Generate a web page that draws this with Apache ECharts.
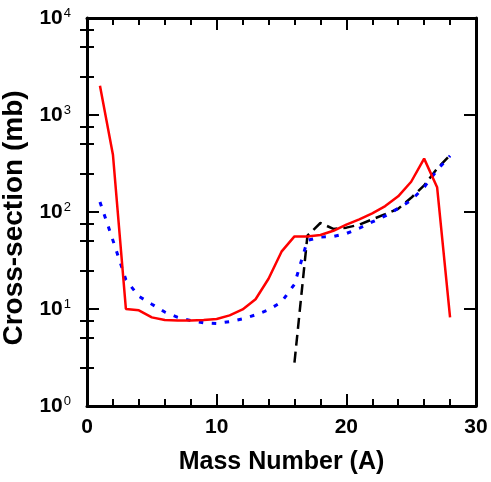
<!DOCTYPE html>
<html>
<head>
<meta charset="utf-8">
<script src="https://cdn.jsdelivr.net/npm/echarts@6/dist/echarts.min.js"></script>
<style>
  html, body { margin: 0; padding: 0; background: #fff; }
  #chart { width: 491px; height: 482px; }
</style>
</head>
<body>
<div id="chart"></div>
<script>
// mass numbers A = 1..28
const massNumbers = [1, 2, 3, 4, 5, 6, 7, 8, 9, 10, 11, 12, 13, 14, 15, 16, 17, 18, 19, 20, 21, 22, 23, 24, 25, 26, 27, 28]
// red solid curve
const redValues = [2000, 390, 10, 9.7, 8.2, 7.7, 7.6, 7.6, 7.7, 7.9, 8.6, 9.9, 12.6, 20.5, 39, 56, 56, 58, 64, 74, 84, 97, 115, 145, 205, 355, 180, 8.2]
// blue dotted curve
const blueValues = [127, 51, 20, 13.5, 11.2, 9.3, 8.2, 7.6, 7.2, 7.1, 7.4, 7.9, 8.7, 9.8, 11.8, 18, 51, 55, 56, 60, 68, 79, 91, 109, 132, 180, 270, 380]
// black dashed curve (A = 16..28)
const blackMass = [16, 17, 18, 19, 20, 21, 22, 23, 24, 25, 26, 27, 28]
const blackValues = [2.8, 57, 77, 67, 69, 74, 84, 95, 108, 140, 188, 280, 385]
// minor ticks on log axis (2.5, 5, 7.5 per decade)
const minorFactors = [2.5, 5, 7.5]
const decades = [0, 1, 2, 3]

const font = "'Liberation Sans', Arial, Helvetica, sans-serif"
const minorLogTicks = []
decades.forEach(d => {
  minorFactors.forEach(f => minorLogTicks.push(d + Math.log10(f)))
})

const chart = echarts.init(document.getElementById('chart'))

const pair = (xs, ys) => xs.map((x, i) => [x, ys[i]])

const xBase = {
  type: 'value',
  min: 0,
  max: 30,
  interval: 10,
  axisLine: { show: true, onZero: false, lineStyle: { color: '#000', width: 3 } },
  axisTick: { show: true, inside: true, length: 12, lineStyle: { color: '#000', width: 2 } },
  minorTick: { show: true, splitNumber: 5, length: 7, lineStyle: { color: '#000', width: 2 } },
  splitLine: { show: false },
  minorSplitLine: { show: false }
}

const logBase = {
  type: 'log',
  logBase: 10,
  min: 1,
  max: 10000,
  axisLine: { show: true, onZero: false, lineStyle: { color: '#000', width: 3 } },
  axisTick: { show: true, inside: true, length: 12, lineStyle: { color: '#000', width: 2 } },
  splitLine: { show: false }
}

// overlay axis only for the uneven minor ticks
const minorBase = {
  type: 'value',
  min: 0,
  max: 4,
  axisLine: { show: false },
  axisLabel: { show: false },
  axisTick: { show: true, inside: true, length: 7, customValues: minorLogTicks, lineStyle: { color: '#000', width: 2 } },
  splitLine: { show: false }
}

const options = {
  animation: false,
  textStyle: { fontFamily: font },
  grid: { left: 87, right: 15, top: 18, bottom: 76, containLabel: false, outerBoundsMode: 'none' },
  xAxis: [
    {
      ...xBase,
      position: 'bottom',
      name: 'Mass Number (A)',
      nameLocation: 'middle',
      nameGap: 44,
      nameTextStyle: { fontFamily: font, fontSize: 25, fontWeight: 'bold', color: '#000' },
      axisLabel: { show: true, margin: 11, fontFamily: font, fontSize: 21, fontWeight: 'bold', color: '#000' }
    },
    {
      ...xBase,
      position: 'top',
      axisLabel: { show: false }
    }
  ],
  yAxis: [
    {
      ...logBase,
      position: 'left',
      name: 'Cross-section (mb)',
      nameLocation: 'middle',
      nameRotate: 90,
      nameGap: 58,
      nameTextStyle: { fontFamily: font, fontSize: 28, fontWeight: 'bold', color: '#000', padding: [0, 12, 0, 0] },
      axisLabel: {
        show: true,
        margin: 16,
        fontFamily: font,
        fontSize: 21,
        fontWeight: 'bold',
        color: '#000',
        formatter: function (v) {
          const e = Math.round(Math.log10(v))
          return '{b|10}{s|' + e + '}'
        },
        rich: {
          b: { fontFamily: font, fontSize: 21, fontWeight: 'bold', color: '#000', lineHeight: 22 },
          s: { fontFamily: font, fontSize: 13, fontWeight: 'normal', color: '#000', verticalAlign: 'top', lineHeight: 13, padding: [0, 0, 0, 1] }
        }
      }
    },
    {
      ...logBase,
      position: 'right',
      axisLabel: { show: false }
    },
    { ...minorBase, position: 'left' },
    { ...minorBase, position: 'right' }
  ],
  series: [
    {
      name: 'black',
      type: 'line',
      xAxisIndex: 0,
      yAxisIndex: 0,
      symbol: 'none',
      data: pair(blackMass, blackValues),
      lineStyle: { color: '#000', width: 2.5, type: [11, 6] }
    },
    {
      name: 'blue',
      type: 'line',
      xAxisIndex: 0,
      yAxisIndex: 0,
      symbol: 'none',
      data: pair(massNumbers, blueValues),
      lineStyle: { color: '#0000ff', width: 3, type: [4.5, 8.5] }
    },
    {
      name: 'red',
      type: 'line',
      xAxisIndex: 0,
      yAxisIndex: 0,
      symbol: 'none',
      data: pair(massNumbers, redValues),
      lineStyle: { color: '#ff0000', width: 2.5 }
    }
  ]
}

chart.setOption(options)
</script>
</body>
</html>
